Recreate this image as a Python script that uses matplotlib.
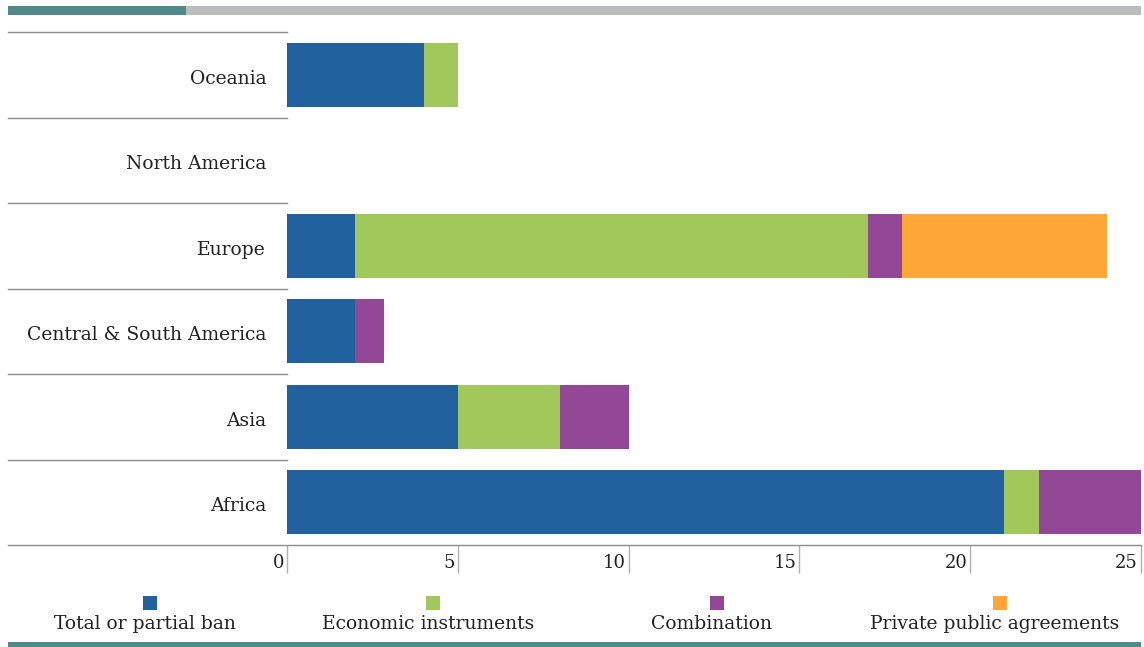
import matplotlib
matplotlib.use('Agg')
import matplotlib.pyplot as plt
import matplotlib.transforms as mtransforms
from matplotlib.patches import Rectangle
import numpy as np

# Data (bottom to top)
regions = ['Africa', 'Asia', 'Central & South America', 'Europe', 'North America', 'Oceania']
ban = [21, 5, 2, 2, 0, 4]
economic = [1, 3, 0, 15, 0, 1]
combination = [3, 2, 0.85, 1, 0, 0]
private = [0, 0, 0, 6, 0, 0]
series_names = ['Total or partial ban', 'Economic instruments', 'Combination', 'Private public agreements']
colors = ['#21619e', '#a2c75a', '#924797', '#fea638']
x_ticks = [0, 5, 10, 15, 20, 25]

plt.rcParams['font.family'] = ['DejaVu Serif']

W, H = 1144, 647
fig = plt.figure(figsize=(W / 100, H / 100), dpi=100)

def fx(px):
    return px / W

def fy(py):
    return 1 - py / H

ax = fig.add_axes([fx(287), fy(545), fx(1141) - fx(287), fy(32) - fy(545)])

y = np.arange(len(regions))
left = np.zeros(len(regions))
for vals, c in zip([ban, economic, combination, private], colors):
    vals = np.array(vals, dtype=float)
    ax.barh(y, vals, left=left, height=0.75, color=c, edgecolor='none')
    left += vals

ax.set_xlim(0, 25)
ax.set_ylim(-0.5, len(regions) - 0.5)

for s in ['top', 'right', 'left', 'bottom']:
    ax.spines[s].set_visible(False)

# category labels
ax.set_yticks(y)
ax.set_yticklabels(regions, fontsize=13.5, color='#222222')
ax.tick_params(axis='y', length=0, pad=15)
down = mtransforms.ScaledTranslation(0, -2 / 100, fig.dpi_scale_trans)
for lbl in ax.get_yticklabels():
    lbl.set_transform(lbl.get_transform() + down)

# row separators running across the label area
trans = mtransforms.blended_transform_factory(ax.transAxes, ax.transData)
x0 = (8 - 287) / (1141 - 287)
for k in range(len(regions) + 1):
    xe = 1 if k == 0 else 0
    ax.plot([x0, xe], [k - 0.5, k - 0.5], transform=trans, color='#8c8c8c',
            lw=1.0, clip_on=False)

# x ticks: long tick lines with labels sitting to their left
ax.set_xticks(x_ticks)
ax.tick_params(axis='x', length=20, width=1.0, color='#b0b0b0', labelbottom=False)
xtrans = mtransforms.blended_transform_factory(ax.transData, ax.transAxes)
off = mtransforms.ScaledTranslation(-3 / 100, 0, fig.dpi_scale_trans)
for t in x_ticks:
    ax.text(t, -0.035, str(t), transform=xtrans + off, ha='right', va='center',
            fontsize=13, color='#222222')

# decorative header and footer bands
fig.patches.append(Rectangle((fx(8), fy(15)), fx(186) - fx(8), fy(6) - fy(15),
                             transform=fig.transFigure, color='#4f8a87', lw=0))
fig.patches.append(Rectangle((fx(186), fy(15)), fx(1141) - fx(186), fy(6) - fy(15),
                             transform=fig.transFigure, color='#bbbcbf', lw=0))
fig.patches.append(Rectangle((fx(8), fy(647)), fx(1141) - fx(8), fy(642) - fy(647),
                             transform=fig.transFigure, color='#4f8a87', lw=0))

# legend: square above label
for i, (name, c) in enumerate(zip(series_names, colors)):
    cx = 145 + i * 283.3
    fig.patches.append(Rectangle((fx(cx + 5 - 7), fy(610)), fx(14), fy(596) - fy(610),
                                 transform=fig.transFigure, color=c, lw=0))
    fig.text(fx(cx), fy(624), name, ha='center', va='center', fontsize=13.5,
             color='#222222')

fig.savefig('out.png', dpi=100)
